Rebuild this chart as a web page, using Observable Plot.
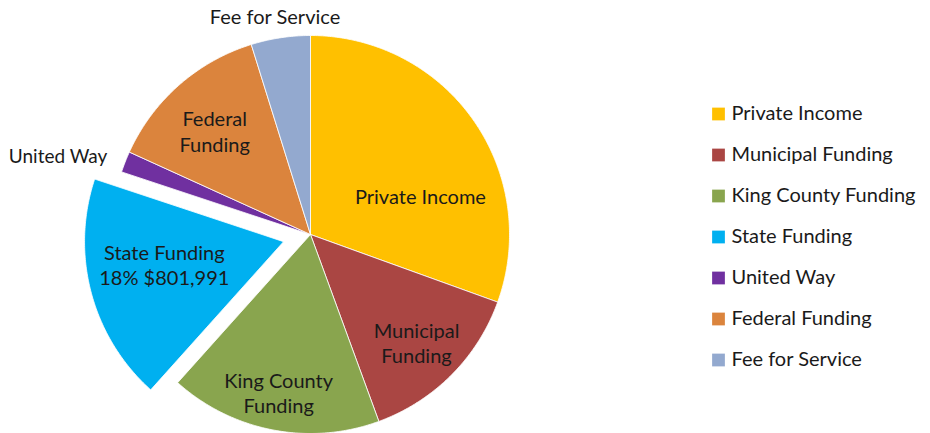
<!DOCTYPE html>
<html><head><meta charset="utf-8">
<script src="https://cdn.jsdelivr.net/npm/d3@7"></script>
<script src="https://cdn.jsdelivr.net/npm/@observablehq/plot@0.6"></script>
<style>
body{margin:0;background:#fff;}
#chart svg{display:block;font-family:Lato,"Open Sans",sans-serif;}
</style>
</head><body><div id="chart"></div>
<script>
// ---- data ----
const categories = ["Private Income","Municipal Funding","King County Funding","State Funding","United Way","Federal Funding","Fee for Service"];
const values = [1326000, 604000, 748000, 801991, 74000, 582000, 209000];
const colors = ["#FFC000","#AA4643","#89A54E","#00B0F0","#7030A0","#DB843D","#93A9CF"];
const sliceLabels = [["Private Income"],["Municipal","Funding"],["King County","Funding"],["State Funding"],["United Way"],["Federal","Funding"],["Fee for Service"]];
const explodedCategory = "State Funding";

// ---- layout (not data) ----
const W = 930, H = 433, cx = 310, cy = 234, R = 199;
const explode = 0.14;
// label anchor positions in polar form (degrees clockwise from top, radius fraction), font size
const labelPolar = [[70.5,0.586,20],[135.5,0.76,20],[191.4,0.81,20],[258.4,0.75,20],[287.5,1.33,19],[317.3,0.71,20],[350.8,1.115,20]];
const legendTop = 113.5, legendStep = 41, legendX = 718, legendTextX = 731;

const total = d3.sum(values);
const arcs = d3.pie().sort(null).value(d => d)(values);

const polys = [];
arcs.forEach((a, i) => {
  const name = categories[i];
  const mid = (a.startAngle + a.endAngle) / 2;
  const off = name === explodedCategory ? explode : 0;
  const ox = off * Math.sin(mid), oy = -off * Math.cos(mid);
  polys.push({name, x: ox, y: oy});
  const n = Math.max(2, Math.ceil((a.endAngle - a.startAngle) / (Math.PI / 360)));
  for (let k = 0; k <= n; k++) {
    const t = a.startAngle + (a.endAngle - a.startAngle) * k / n;
    polys.push({name, x: ox + Math.sin(t), y: oy - Math.cos(t)});
  }
  polys.push({name, x: ox, y: oy});
});

const labels = categories.map((name, i) => {
  const [deg, rf, fs] = labelPolar[i];
  const t = deg * Math.PI / 180;
  let lines = sliceLabels[i].slice();
  if (name === explodedCategory) {
    lines.push(`${Math.round(values[i] / total * 100)}% $${d3.format(",")(values[i])}`);
  }
  return {name, x: rf * Math.sin(t), y: -rf * Math.cos(t), fs, text: lines.join("\n")};
});

const toUx = px => (px - cx) / R, toUy = py => (py - cy) / R;
const legend = categories.map((name, i) => ({name, x: toUx(legendX), tx: toUx(legendTextX), y: toUy(legendTop + i * legendStep)}));

const chart = Plot.plot({
  width: W, height: H,
  margin: 0,
  x: {domain: [-1, 1], range: [cx - R, cx + R], axis: null},
  y: {domain: [-1, 1], range: [cy - R, cy + R], axis: null},
  color: {domain: categories, range: colors},
  style: {fontFamily: "Lato, 'Open Sans', sans-serif", background: "#fff"},
  marks: [
    Plot.line(polys, {x: "x", y: "y", z: "name", fill: "name", stroke: "#fff", strokeWidth: 1, strokeOpacity: 0.8, curve: "linear"}),
    Plot.text(labels, {x: "x", y: "y", text: "text", fontSize: d => d.fs, fill: "#1a1a1a", lineHeight: 1.28, textAnchor: "middle"}),
    Plot.dot(legend, {x: "x", y: "y", symbol: "square", r: 7.2, fill: "name", stroke: "none"}),
    Plot.text(legend, {x: "tx", y: "y", text: "name", fontSize: 20, fill: "#1a1a1a", textAnchor: "start"})
  ]
});
document.getElementById("chart").appendChild(chart);
</script>
</body></html>
